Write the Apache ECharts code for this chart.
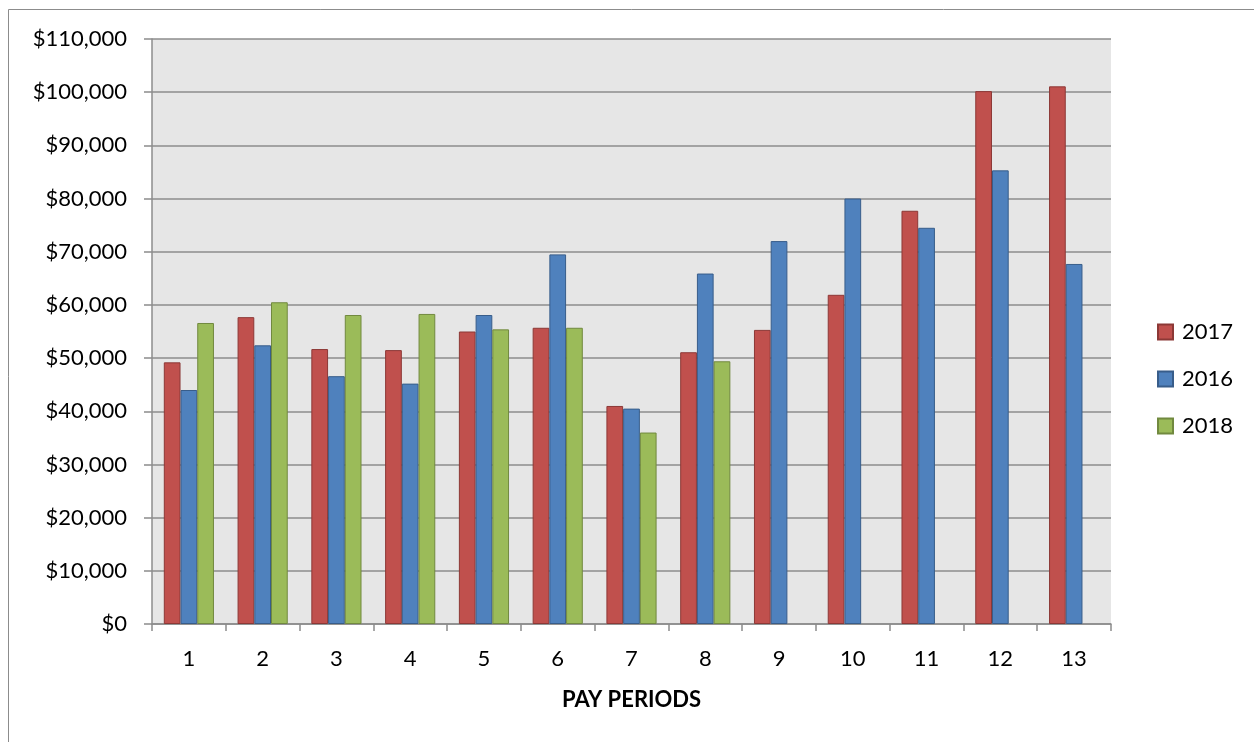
<!DOCTYPE html>
<html>
<head>
<meta charset="utf-8">
<script src="https://cdn.jsdelivr.net/npm/echarts@6/dist/echarts.min.js"></script>
<style>
  html, body { margin: 0; padding: 0; background: #ffffff; }
  #chart { width: 1254px; height: 742px; }
</style>
</head>
<body>
<div id="chart"></div>
<script>
// Pay period totals by year
const periods = ['1', '2', '3', '4', '5', '6', '7', '8', '9', '10', '11', '12', '13'];
const values2017 = [49200, 57700, 51700, 51500, 55000, 55700, 41000, 51100, 55300, 61900, 77700, 100200, 101100];
const values2016 = [44000, 52400, 46600, 45200, 58100, 69500, 40500, 65900, 72000, 80000, 74500, 85300, 67700];
const values2018 = [56600, 60500, 58100, 58300, 55400, 55700, 36000, 49400, null, null, null, null, null];
const yTicks = { min: 0, max: 110000, step: 10000 };

const FONT = 'Lato, "Open Sans", sans-serif';
const GRID_GRAY = '#8c8c8c';

const chart = echarts.init(document.getElementById('chart'), null, { renderer: 'canvas' });

function money(v) {
  return '$' + v.toString().replace(/\B(?=(\d{3})+(?!\d))/g, ',');
}

function barSeries(name, data, fill, edge) {
  return {
    name: name,
    type: 'bar',
    data: data,
    barGap: '0%',
    barCategoryGap: '32%',
    itemStyle: { color: fill, borderColor: edge, borderWidth: 1 },
    emphasis: { disabled: true }
  };
}

chart.setOption({
  animation: false,
  backgroundColor: '#ffffff',
  textStyle: { fontFamily: FONT },
  graphic: [{
    type: 'rect',
    shape: { x: 8.5, y: 9.5, width: 1260, height: 760 },
    style: { fill: 'none', stroke: '#8c8c8c', lineWidth: 1 },
    silent: true
  }],
  grid: {
    left: 152, right: 143, top: 39, bottom: 118,
    show: true, backgroundColor: '#e6e6e6', borderWidth: 0
  },
  legend: {
    orient: 'vertical',
    left: 1152, top: 316,
    itemWidth: 15, itemHeight: 15, itemGap: 25,
    icon: 'rect',
    textStyle: { fontFamily: FONT, fontSize: 22, color: '#000', padding: [0, 0, 0, 4] },
    data: ['2017', '2016', '2018']
  },
  xAxis: {
    type: 'category',
    data: periods,
    name: 'PAY PERIODS',
    nameLocation: 'middle',
    nameGap: 65,
    nameMoveOverlap: false,
    nameTextStyle: { fontFamily: FONT, fontSize: 22, fontWeight: 'bold', color: '#000' },
    axisLine: { lineStyle: { color: GRID_GRAY, width: 1.5 } },
    axisTick: { show: true, length: 7, alignWithLabel: false, lineStyle: { color: GRID_GRAY, width: 1.5 } },
    axisLabel: { fontFamily: FONT, fontSize: 22, color: '#000', margin: 24 },
    splitLine: { show: false }
  },
  yAxis: {
    type: 'value',
    min: yTicks.min, max: yTicks.max, interval: yTicks.step,
    axisLine: { show: true, lineStyle: { color: GRID_GRAY, width: 1.5 } },
    axisTick: { show: true, inside: false, length: 8, lineStyle: { color: GRID_GRAY, width: 1.5 } },
    axisLabel: { fontFamily: FONT, fontSize: 22, color: '#000', margin: 25, formatter: money },
    splitLine: { show: true, lineStyle: { color: GRID_GRAY, width: 1.5 } }
  },
  series: [
    barSeries('2017', values2017, '#c0504d', '#8c3836'),
    barSeries('2016', values2016, '#4f81bd', '#385d8a'),
    barSeries('2018', values2018, '#9bbb59', '#71893f')
  ]
});
</script>
</body>
</html>
